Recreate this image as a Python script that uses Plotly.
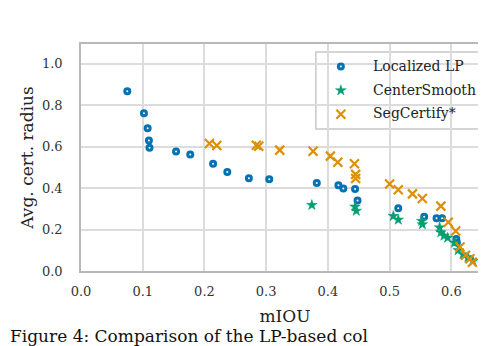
import plotly.graph_objects as go

# Localized LP
lp_miou = [0.075, 0.102, 0.108, 0.110, 0.111, 0.154, 0.177, 0.214, 0.237, 0.272, 0.305,
           0.382, 0.417, 0.425, 0.444, 0.448, 0.514, 0.556, 0.576, 0.585, 0.608, 0.609]
lp_radius = [0.867, 0.761, 0.689, 0.629, 0.594, 0.576, 0.562, 0.517, 0.477, 0.448, 0.443,
             0.424, 0.414, 0.398, 0.396, 0.340, 0.303, 0.262, 0.255, 0.255, 0.154, 0.138]

# CenterSmooth
cs_miou = [0.374, 0.444, 0.446, 0.506, 0.514, 0.552, 0.553, 0.581, 0.583, 0.588, 0.594,
           0.605, 0.611, 0.619, 0.627, 0.635]
cs_radius = [0.318, 0.310, 0.290, 0.265, 0.247, 0.241, 0.225, 0.210, 0.186, 0.170, 0.160,
             0.136, 0.100, 0.080, 0.066, 0.048]

# SegCertify*
sc_miou = [0.208, 0.220, 0.284, 0.288, 0.322, 0.376, 0.404, 0.416, 0.443, 0.445, 0.445,
           0.500, 0.514, 0.537, 0.553, 0.583, 0.595, 0.607, 0.614, 0.623, 0.630, 0.634]
sc_radius = [0.615, 0.605, 0.607, 0.602, 0.583, 0.578, 0.554, 0.525, 0.517, 0.466, 0.446,
             0.420, 0.392, 0.372, 0.350, 0.313, 0.235, 0.193, 0.116, 0.076, 0.059, 0.042]

names = ["Localized LP", "CenterSmooth", "SegCertify*"]

blue, green, orange = "#0173b2", "#029e73", "#de8f05"
font = "DejaVu Serif"

fig = go.Figure()
fig.add_trace(go.Scatter(x=lp_miou, y=lp_radius, mode="markers", name=" ",
                         marker=dict(symbol="circle", size=5, color="white",
                                     line=dict(color=blue, width=3))))
fig.add_trace(go.Scatter(x=cs_miou, y=cs_radius, mode="markers", name="  ",
                         marker=dict(symbol="star", size=8, color=green,
                                     line=dict(color=green, width=0.5))))
fig.add_trace(go.Scatter(x=sc_miou, y=sc_radius, mode="markers", name="   ",
                         marker=dict(symbol="x-thin", size=9,
                                     line=dict(color=orange, width=2.2))))

axis = dict(showgrid=True, gridcolor="#dcdcdc", gridwidth=1.5, showline=True,
            linecolor="#b8b8b8", linewidth=1.5, mirror=True, zeroline=False,
            ticks="", tickfont=dict(family=font, size=13, color="#333"))
fig.update_xaxes(range=[0, 0.661], dtick=0.1, tickformat=".1f", ticklabelstandoff=8,
                 title=dict(text="mIOU", font=dict(family=font, size=17, color="#222"), standoff=12),
                 **axis)
fig.update_yaxes(range=[0, 1.095], dtick=0.2, tickformat=".1f", ticklabelstandoff=14,
                 title=dict(text="Avg. cert. radius", font=dict(family=font, size=17, color="#222"),
                            standoff=4),
                 **axis)

fig.update_layout(
    width=486, height=346,
    margin=dict(l=73, r=3, t=36, b=83),
    plot_bgcolor="white", paper_bgcolor="white",
    font=dict(family=font, color="#222"),
    showlegend=True,
    legend=dict(x=0.5756, y=0.975, xanchor="left", yanchor="top", bgcolor="rgba(0,0,0,0)",
                borderwidth=0, tracegroupgap=0, itemwidth=40, font=dict(size=16)),
)

# legend frame and labels (legend text ignores the font family, so draw it as annotations)
fig.add_shape(type="rect", xref="paper", yref="paper", x0=0.5756, x1=0.98, y0=0.626, y1=0.965,
              line=dict(color="#c8c8c8", width=1.5), fillcolor="rgba(255,255,255,0.85)",
              layer="below")
for name, yy in zip(names, [0.903, 0.797, 0.696]):
    fig.add_annotation(text=name, xref="paper", yref="paper", x=0.71, y=yy,
                       xanchor="left", yanchor="middle", showarrow=False,
                       font=dict(family=font, size=14, color="#222"))

fig.add_annotation(text="Figure 4: Comparison of the LP-based col", xref="paper", yref="paper",
                   x=-0.178, y=-0.34, xanchor="left", yanchor="bottom", showarrow=False,
                   font=dict(family=font, size=17, color="#111"))

fig.write_html("out.html")
